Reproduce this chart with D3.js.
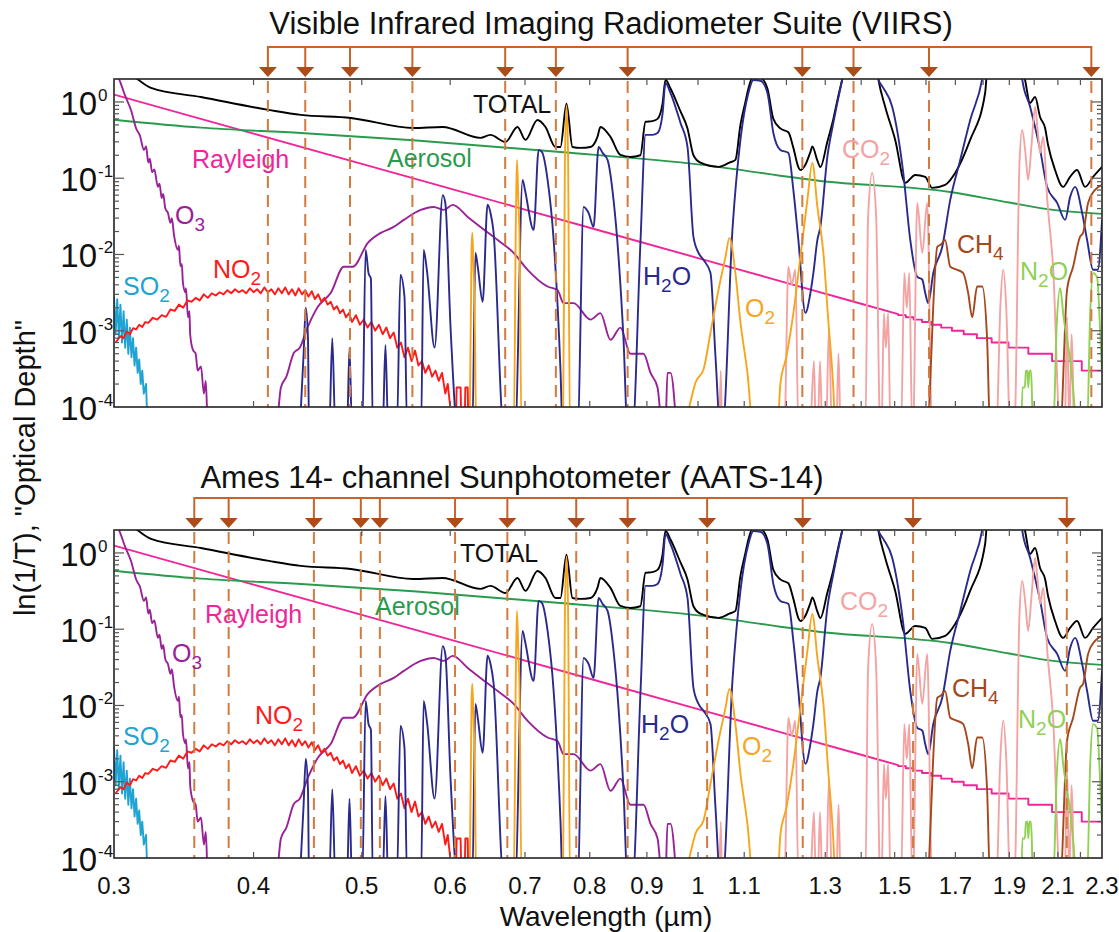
<!DOCTYPE html>
<html><head><meta charset="utf-8">
<script src="https://cdn.jsdelivr.net/npm/d3@7"></script>
<style>
body{margin:0;background:#fff}
svg{display:block}
text{font-family:"Liberation Sans",Arial,Helvetica,sans-serif;fill:#111}
</style></head>
<body><svg id="chart" width="1119" height="932"></svg>
<script>
// ---------------- DATA (wavelength in µm, optical depth) ----------------
const xTickValues = [0.3,0.4,0.5,0.6,0.7,0.8,0.9,1,1.1,1.3,1.5,1.7,1.9,2.1,2.3];
const xMinorTicks = [0.4,0.5,0.6,0.7,0.8,0.9,1.0,1.1,1.2,1.3,1.4,1.5,1.6,1.7,1.8,1.9,2.0,2.1,2.2];
const yDecades = [1e-4,1e-3,1e-2,1e-1,1];
const yExponents = ["-4","-3","-2","-1","0"];

const VIIRS_BANDS = [0.412,0.445,0.488,0.555,0.672,0.746,0.865,1.24,1.378,1.61,2.25];
const AATS_BANDS = [0.354,0.380,0.453,0.499,0.519,0.606,0.675,0.778,0.865,1.019,1.241,1.558,2.139];

const TOTAL = [[0.300,3.0],[0.3146,2.0],[0.3238,1.53],[0.3589,1.16],[0.4128,0.786],[0.441,0.676],[0.4888,0.617],[0.5562,0.456],[0.5905,0.47],[0.6386,0.338],[0.6519,0.37],[0.6724,0.299],[0.6892,0.47],[0.7007,0.318],[0.7182,0.581],[0.7302,0.47],[0.7454,0.257],[0.7531,0.257],[0.7625,0.95],[0.772,0.257],[0.7848,0.25],[0.8012,0.257],[0.8128,0.348],[0.8178,0.47],[0.8349,0.348],[0.8522,0.202],[0.87,0.19],[0.888,0.2],[0.8975,0.55],[0.91,0.56],[0.92,0.6],[0.9295,0.95],[0.9352,1.95],[0.9449,1.5],[0.9646,0.75],[0.9786,0.45],[0.9907,0.2],[1.005,0.16],[1.043,0.141],[1.067,0.16],[1.0802,0.174],[1.0914,0.5],[1.1027,1.0],[1.1095,1.5],[1.121,2.2],[1.1372,2.1],[1.1539,1.5],[1.1681,0.6],[1.1851,0.45],[1.2048,0.4],[1.2173,0.25],[1.2299,0.14],[1.235,0.128],[1.2478,0.15],[1.2607,0.22],[1.2659,0.26],[1.2791,0.17],[1.2869,0.14],[1.3056,0.3],[1.3219,0.6],[1.3355,1.2],[1.3466,2.0],[1.36,4],[1.44,4],[1.4502,2.0],[1.4711,0.86],[1.5017,0.318],[1.533,0.0868],[1.5649,0.11],[1.5975,0.104],[1.6207,0.0746],[1.6645,0.0817],[1.6992,0.117],[1.7525,0.318],[1.8075,1.31],[1.82,4],[1.94,4],[1.9627,1.94],[1.983,0.97],[2.0036,1.16],[2.0243,0.636],[2.0453,0.456],[2.058,0.273],[2.0879,0.128],[2.1225,0.0769],[2.1534,0.104],[2.1848,0.128],[2.2212,0.0769],[2.258,0.104],[2.3003,0.141]];

const AEROSOL = [[0.3,0.585],[0.359,0.46],[0.441,0.392],[0.556,0.315],[0.753,0.221],[1.005,0.151],[1.287,0.092],[1.682,0.066],[1.9,0.048],[2.08,0.0384],[2.3,0.0341]];

const RAYLEIGH = [[0.3,1.25],[0.4,0.384],[0.5,0.154],[0.6,0.0729],[0.7,0.0388],[0.8,0.0224],[1.0,0.00898],[1.2,0.00425],[1.4,0.00226],[1.511,0.00165],[1.511,0.0016],[1.535,0.0016],[1.535,0.0015],[1.56,0.0015],[1.56,0.0014],[1.587,0.0014],[1.587,0.0013],[1.617,0.0013],[1.617,0.0012],[1.651,0.0012],[1.651,0.0011],[1.688,0.0011],[1.688,0.001],[1.7295,0.001],[1.7295,0.0009],[1.777,0.0009],[1.777,0.0008],[1.832,0.0008],[1.832,0.0007],[1.897,0.0007],[1.897,0.0006],[1.976,0.0006],[1.976,0.0005],[2.075,0.0005],[2.075,0.0004],[2.206,0.0004],[2.206,0.0003],[2.3,0.0003]];

const O3 = [[0.3,2.5],[0.3031,2.0],[0.307,1.2],[0.3107,0.786],[0.314,0.45],[0.3165,0.36],[0.3191,0.235],[0.3205,0.26],[0.322,0.16],[0.323,0.18],[0.3245,0.12],[0.326,0.13],[0.3284,0.077],[0.3295,0.085],[0.331,0.055],[0.332,0.062],[0.3335,0.04],[0.3353,0.035],[0.337,0.026],[0.338,0.03],[0.3395,0.018],[0.3423,0.0115],[0.343,0.013],[0.344,0.007],[0.345,0.0075],[0.3458,0.0043],[0.3475,0.0032],[0.348,0.0036],[0.3494,0.0015],[0.3505,0.0018],[0.351,0.0009],[0.353,0.00056],[0.355,0.0005],[0.3565,0.0003],[0.3589,0.00034],[0.3611,0.00015],[0.3625,0.00022],[0.3641,5e-5],[0.4188,5e-5],[0.4232,0.00018],[0.428,0.00025],[0.4346,0.00051],[0.44,0.0006],[0.4474,0.00113],[0.4567,0.00206],[0.4691,0.00314],[0.4818,0.0069],[0.4908,0.0069],[0.5063,0.0142],[0.52,0.0192],[0.534,0.023],[0.5452,0.0284],[0.5646,0.0384],[0.5799,0.042],[0.592,0.0384],[0.6031,0.0447],[0.622,0.0311],[0.6386,0.023],[0.6617,0.0155],[0.6838,0.0105],[0.7038,0.0063],[0.7334,0.0038],[0.7487,0.0034],[0.758,0.0023],[0.7738,0.0023],[0.8012,0.0014],[0.8178,0.0017],[0.8349,0.00076],[0.8522,0.0011],[0.87,0.0005],[0.8938,0.0005],[0.9068,0.00028],[0.92,0.00018],[0.9295,5e-5],[0.935,5e-5],[0.939,0.00028],[0.945,0.00028],[0.9567,5e-5]];

const NO2 = [[0.301,0.0007],[0.304,0.00085],[0.306,0.0008],[0.308,0.00098],[0.310,0.0009],[0.312,0.00108],[0.314,0.00104],[0.316,0.0012],[0.318,0.00112],[0.32,0.0013],[0.322,0.00127],[0.325,0.00148],[0.328,0.0014],[0.331,0.0016],[0.334,0.00152],[0.337,0.0019],[0.340,0.00182],[0.343,0.0022],[0.346,0.0020],[0.349,0.0025],[0.352,0.0024],[0.355,0.0027],[0.358,0.0025],[0.361,0.0030],[0.364,0.0027],[0.367,0.0031],[0.370,0.0029],[0.373,0.0032],[0.376,0.0030],[0.379,0.0034],[0.382,0.0031],[0.385,0.0035],[0.388,0.0032],[0.391,0.0034],[0.394,0.0031],[0.397,0.0036],[0.400,0.0032],[0.403,0.0035],[0.406,0.0031],[0.409,0.0037],[0.412,0.0032],[0.415,0.0035],[0.418,0.0030],[0.421,0.0036],[0.424,0.0031],[0.427,0.0037],[0.430,0.0030],[0.433,0.0035],[0.436,0.0029],[0.439,0.0036],[0.442,0.0030],[0.445,0.0034],[0.448,0.0028],[0.451,0.0033],[0.454,0.0026],[0.457,0.0030],[0.460,0.0024],[0.463,0.0027],[0.466,0.0022],[0.469,0.0024],[0.472,0.0019],[0.475,0.0021],[0.478,0.0017],[0.481,0.0019],[0.484,0.0015],[0.487,0.0017],[0.490,0.0013],[0.494,0.0016],[0.498,0.0012],[0.502,0.0014],[0.506,0.0011],[0.51,0.0013],[0.514,0.001],[0.518,0.0012],[0.522,0.0009],[0.526,0.0011],[0.530,0.0008],[0.534,0.00095],[0.538,0.0006],[0.542,0.0007],[0.546,0.00045],[0.550,0.0006],[0.554,0.0004],[0.558,0.00055],[0.562,0.00035],[0.566,0.0004],[0.570,0.00028],[0.574,0.00035],[0.578,0.00025],[0.582,0.0003],[0.586,0.00022],[0.590,0.00028],[0.594,0.00015],[0.597,0.0002],[0.600,0.0001],[0.603,5e-5],[0.607,5e-5],[0.608,0.00018],[0.613,0.00018],[0.614,5e-5],[0.618,5e-5],[0.619,0.00018],[0.622,0.00018],[0.623,5e-5]];

const SO2 = [[0.3,0.0028],[0.301,0.0009],[0.302,0.0026],[0.303,0.0008],[0.304,0.0022],[0.305,0.0007],[0.306,0.0018],[0.307,0.0006],[0.308,0.0014],[0.309,0.0005],[0.310,0.0011],[0.311,0.00045],[0.312,0.0008],[0.313,0.00035],[0.314,0.0006],[0.315,0.00028],[0.316,0.00042],[0.317,0.0002],[0.318,0.0003],[0.319,0.00015],[0.3205,0.0002],[0.3215,5e-5]];

const H2O = [[0.440,5e-5],[0.4435,0.0005],[0.4455,0.002],[0.4475,0.0008],[0.4485,5e-5],[0.4675,5e-5],[0.4705,0.0008],[0.4735,5e-5],[0.485,5e-5],[0.4875,0.0006],[0.490,5e-5],[0.5005,5e-5],[0.504,0.0115],[0.507,0.0057],[0.5095,0.0048],[0.5115,5e-5],[0.522,5e-5],[0.525,0.00065],[0.528,5e-5],[0.5375,5e-5],[0.5415,0.0054],[0.546,0.0028],[0.549,5e-5],[0.565,5e-5],[0.568,0.0115],[0.572,0.006],[0.581,0.0006],[0.5908,0.06],[0.594,0.047],[0.6006,0.001],[0.6094,5e-5],[0.628,5e-5],[0.632,0.0105],[0.635,0.007],[0.6415,0.0024],[0.648,0.045],[0.652,0.035],[0.656,0.02],[0.670,5e-5],[0.686,5e-5],[0.6966,0.095],[0.700,0.07],[0.7126,0.021],[0.72,0.235],[0.725,0.22],[0.7334,0.095],[0.7426,0.0155],[0.7533,0.00028],[0.7564,5e-5],[0.7802,5e-5],[0.7899,0.042],[0.7981,0.035],[0.8063,0.023],[0.8147,0.257],[0.8214,0.215],[0.8299,0.174],[0.8402,0.052],[0.8489,0.0093],[0.8577,0.00076],[0.8648,5e-5],[0.8737,5e-5],[0.8883,0.0155],[0.8975,0.37],[0.910,0.37],[0.92,0.392],[0.9295,0.7],[0.9352,1.77],[0.9449,1.31],[0.9646,0.531],[0.9786,0.257],[0.9907,0.017],[1.0011,0.0105],[1.0114,0.0085],[1.0261,0.0057],[1.0367,0.00046],[1.0474,5e-5],[1.0517,5e-5],[1.0736,0.021],[1.0914,0.318],[1.1095,1.31],[1.121,1.94],[1.1372,1.9],[1.1539,1.31],[1.1681,0.392],[1.1851,0.235],[1.2048,0.215],[1.2173,0.07],[1.2299,0.0155],[1.2478,0.00172],[1.2607,0.0031],[1.2685,0.0057],[1.2791,0.0155],[1.2869,0.023],[1.3056,0.19],[1.3219,0.531],[1.3466,2.0],[1.36,4],[1.44,4],[1.4502,2.0],[1.4652,1.53],[1.4926,0.86],[1.5269,0.117],[1.549,0.0155],[1.5715,0.0051],[1.5878,0.0047],[1.5977,0.0031],[1.6076,0.0023],[1.6242,0.0057],[1.6546,0.0126],[1.6821,0.052],[1.7171,0.174],[1.7528,0.581],[1.7967,2.0],[1.81,4],[1.94,4],[1.951,2.0],[1.9834,0.86],[2.0247,0.235],[2.0541,0.0769],[2.0969,0.0475],[2.1317,0.0284],[2.1538,0.0569],[2.1761,0.0769],[2.2077,0.0351],[2.2305,0.0155],[2.2581,0.0063],[2.28,0.0063],[2.3003,0.0284]];

const O2 = [[0.6245,5e-5],[0.627,0.012],[0.628,0.0192],[0.6295,0.007],[0.631,0.002],[0.633,5e-5],[0.684,5e-5],[0.687,0.03],[0.6885,0.174],[0.6905,0.05],[0.692,0.02],[0.695,5e-5],[0.757,5e-5],[0.760,0.15],[0.7625,0.9],[0.765,0.2],[0.768,5e-5],[0.97,5e-5],[0.985,0.00012],[0.9949,0.00021],[1.0114,0.00031],[1.0261,0.00094],[1.043,0.0034],[1.0583,0.0093],[1.067,0.0165],[1.0802,0.0057],[1.0914,0.0013],[1.1073,0.00028],[1.121,5e-5],[1.1779,5e-5],[1.1851,0.0002],[1.2,0.00046],[1.2173,0.0017],[1.235,0.0093],[1.253,0.052],[1.2659,0.159],[1.2791,0.042],[1.295,0.0105],[1.3084,0.0013],[1.3219,0.00017],[1.327,5e-5]];

const CO2 = [[1.045,5e-5],[1.048,0.0003],[1.051,5e-5],[1.195,5e-5],[1.2048,0.0069],[1.213,0.004],[1.2223,0.0063],[1.23,5e-5],[1.26,5e-5],[1.27,0.0004],[1.275,5e-5],[1.28,5e-5],[1.286,0.0004],[1.292,5e-5],[1.302,5e-5],[1.31,0.0011],[1.318,5e-5],[1.33,5e-5],[1.336,0.0005],[1.342,5e-5],[1.412,5e-5],[1.42,0.03],[1.432,0.117],[1.444,0.03],[1.456,5e-5],[1.46,5e-5],[1.467,0.0017],[1.473,0.0006],[1.48,0.0017],[1.487,5e-5],[1.52,5e-5],[1.53,0.0057],[1.538,0.002],[1.546,0.0057],[1.555,5e-5],[1.558,5e-5],[1.5715,0.0475],[1.5878,0.0105],[1.604,0.0475],[1.62,5e-5],[1.85,5e-5],[1.865,0.002],[1.876,0.0063],[1.888,0.002],[1.903,5e-5],[1.92,5e-5],[1.94,0.15],[1.951,0.43],[1.965,0.2],[1.975,0.095],[1.99,0.3],[2.0036,0.86],[2.015,0.4],[2.0247,0.215],[2.037,0.348],[2.055,0.05],[2.08,0.0063],[2.11,5e-5],[2.13,5e-5],[2.14,0.0015],[2.15,5e-5],[2.16,0.0009],[2.17,5e-5]];

const CH4 = [[1.6076,5e-5],[1.6242,0.0021],[1.6377,0.0126],[1.65,0.0135],[1.6645,0.0155],[1.6821,0.0069],[1.7064,0.0063],[1.7277,0.0057],[1.7456,0.0031],[1.76,0.0015],[1.778,0.0038],[1.7967,0.0038],[1.815,0.00076],[1.8262,5e-5],[2.11,5e-5],[2.14,0.00344],[2.167,0.0069],[2.198,0.017],[2.212,0.0192],[2.235,0.0475],[2.267,0.0703],[2.3003,0.0817]];

const N2O = [[1.948,5e-5],[1.952,0.00018],[1.962,0.00018],[1.966,0.0003],[1.972,0.0003],[1.976,0.00018],[1.98,0.0003],[1.986,0.0003],[1.99,0.00018],[1.994,5e-5],[2.08,5e-5],[2.095,0.0012],[2.11,0.0036],[2.125,0.0015],[2.14,0.00076],[2.1538,0.00042],[2.165,0.0002],[2.185,5e-5],[2.23,5e-5],[2.245,0.0018],[2.258,0.0057],[2.277,0.005],[2.29,0.0012],[2.3003,0.00028]];

// ---------------- STYLE / LAYOUT ----------------
const series = [
  {data: RAYLEIGH, color: "#f0259a", step: true},
  {data: AEROSOL, color: "#2a9a4c"},
  {data: TOTAL, color: "#000000"},
  {data: SO2, color: "#1ea3d3", step: true},
  {data: O3, color: "#992296"},
  {data: NO2, color: "#ff1a1a", step: true},
  {data: H2O, color: "#2a2a8c"},
  {data: CO2, color: "#f4a3a3"},
  {data: CH4, color: "#a4481c"},
  {data: N2O, color: "#8fd152"},
  {data: O2, color: "#f8a51e"}
];

const panels = [
  {top: 79, bottom: 407, title: "Visible Infrared Imaging Radiometer Suite (VIIRS)", titleX: 611, titleY: 34,
   bands: VIIRS_BANDS, xLabels: false,
   labels: [
    {t:"TOTAL", x:473, y:113, c:"#111"},
    {t:"Rayleigh", x:192, y:168, c:"#f0259a"},
    {t:"Aerosol", x:387, y:167, c:"#2a9a4c"},
    {t:"O", s:"3", x:175, y:224, c:"#992296"},
    {t:"NO", s:"2", x:213, y:278, c:"#ff1a1a"},
    {t:"SO", s:"2", x:123, y:295, c:"#1ea3d3"},
    {t:"H", s:"2", t2:"O", x:643, y:285, c:"#2a2a8c"},
    {t:"O", s:"2", x:745, y:317, c:"#f8a51e"},
    {t:"CO", s:"2", x:842, y:158, c:"#f4a3a3"},
    {t:"CH", s:"4", x:957, y:253, c:"#a4481c"},
    {t:"N", s:"2", t2:"O", x:1020, y:280, c:"#8fd152"}
   ]},
  {top: 530, bottom: 858, title: "Ames 14- channel Sunphotometer (AATS-14)", titleX: 512, titleY: 488,
   bands: AATS_BANDS, xLabels: true,
   labels: [
    {t:"TOTAL", x:460, y:562, c:"#111"},
    {t:"Rayleigh", x:205, y:623, c:"#f0259a"},
    {t:"Aerosol", x:375, y:615, c:"#2a9a4c"},
    {t:"O", s:"3", x:172, y:662, c:"#992296"},
    {t:"NO", s:"2", x:255, y:724, c:"#ff1a1a"},
    {t:"SO", s:"2", x:123, y:745, c:"#1ea3d3"},
    {t:"H", s:"2", t2:"O", x:641, y:733, c:"#2a2a8c"},
    {t:"O", s:"2", x:742, y:755, c:"#f8a51e"},
    {t:"CO", s:"2", x:840, y:610, c:"#f4a3a3"},
    {t:"CH", s:"4", x:952, y:697, c:"#a4481c"},
    {t:"N", s:"2", t2:"O", x:1018, y:728, c:"#8fd152"}
   ]}
];

const svg = d3.select("#chart");
const x = d3.scaleLog().domain([0.3, 2.3]).range([114, 1102]);
const bandColor = "#d27a40", bracketColor = "#c8632c", headColor = "#ad4c18";

panels.forEach((p, i) => {
  const y = d3.scaleLog().domain([1e-4, 2]).range([p.bottom, p.top]);
  const x0 = x.range()[0], x1 = x.range()[1];
  const g = svg.append("g");

  g.append("text").attr("x", p.titleX).attr("y", p.titleY).attr("text-anchor", "middle")
    .style("font-size", "31px").text(p.title);

  const cid = "clip" + i;
  svg.append("defs").append("clipPath").attr("id", cid)
    .append("rect").attr("x", x0).attr("y", p.top).attr("width", x1 - x0).attr("height", p.bottom - p.top);

  const smooth = d3.line().x(d => x(d[0])).y(d => y(Math.max(d[1], 3e-5))).curve(d3.curveMonotoneX);
  const straight = d3.line().x(d => x(d[0])).y(d => y(Math.max(d[1], 3e-5)));
  const cg = g.append("g").attr("clip-path", `url(#${cid})`);
  series.forEach(s => {
    cg.append("path").attr("d", (s.step ? straight : smooth)(s.data)).attr("fill", "none")
      .attr("stroke", s.color).attr("stroke-width", 1.9).attr("stroke-linejoin", "round");
  });

  cg.selectAll(".band").data(p.bands).join("line")
    .attr("x1", d => x(d)).attr("x2", d => x(d))
    .attr("y1", p.top + 2).attr("y2", p.bottom)
    .attr("stroke", bandColor).attr("stroke-width", 2).attr("stroke-dasharray", "12,7");

  const by = p.top - 32;
  g.append("line").attr("x1", x(p.bands[0])).attr("x2", x(p.bands[p.bands.length - 1]))
    .attr("y1", by).attr("y2", by).attr("stroke", bracketColor).attr("stroke-width", 2);
  g.selectAll(".stem").data(p.bands).join("line")
    .attr("x1", d => x(d)).attr("x2", d => x(d)).attr("y1", by - 1).attr("y2", p.top - 11)
    .attr("stroke", bracketColor).attr("stroke-width", 2);
  g.selectAll(".head").data(p.bands).join("path")
    .attr("d", d => `M${x(d) - 9},${p.top - 12} L${x(d) + 9},${p.top - 12} L${x(d)},${p.top - 2} Z`)
    .attr("fill", headColor);

  g.append("rect").attr("x", x0).attr("y", p.top).attr("width", x1 - x0).attr("height", p.bottom - p.top)
    .attr("fill", "none").attr("stroke", "#222").attr("stroke-width", 1.6);

  const xt = g.append("g").attr("stroke", "#555").attr("stroke-width", 1.2);
  xMinorTicks.forEach(v => {
    xt.append("line").attr("x1", x(v)).attr("x2", x(v)).attr("y1", p.bottom).attr("y2", p.bottom - 6);
    xt.append("line").attr("x1", x(v)).attr("x2", x(v)).attr("y1", p.top).attr("y2", p.top + 6);
  });

  const yt = g.append("g").attr("stroke", "#555").attr("stroke-width", 1.2);
  yDecades.forEach(dec => {
    for (let m = 1; m <= 9; m++) {
      const v = dec * m;
      if (v > 2 || (m === 1 && dec === 1e-4)) continue;
      const len = m === 1 ? 10 : 5;
      yt.append("line").attr("x1", x0).attr("x2", x0 + len).attr("y1", y(v)).attr("y2", y(v));
      yt.append("line").attr("x1", x1).attr("x2", x1 - len).attr("y1", y(v)).attr("y2", y(v));
    }
  });

  yDecades.forEach((dec, k) => {
    const ty = y(dec);
    g.append("text").attr("x", 97).attr("y", ty + 13).attr("text-anchor", "end")
      .style("font-size", "33px").text("10");
    g.append("text").attr("x", 98).attr("y", ty - 1).style("font-size", "17px").text(yExponents[k]);
  });

  if (p.xLabels) {
    xTickValues.forEach(v => {
      g.append("text").attr("x", x(v)).attr("y", 894).attr("text-anchor", "middle")
        .style("font-size", "24px").text(String(v));
    });
  }

  p.labels.forEach(l => {
    const t = g.append("text").attr("x", l.x).attr("y", l.y).style("font-size", "25px");
    t.append("tspan").style("fill", l.c).text(l.t);
    if (l.s) t.append("tspan").attr("dy", 7).style("font-size", "19px").style("fill", l.c).text(l.s);
    if (l.t2) t.append("tspan").attr("dy", -7).style("fill", l.c).text(l.t2);
  });
});

svg.append("text").attr("x", 606).attr("y", 926).attr("text-anchor", "middle")
  .style("font-size", "28px").text("Wavelength (\u00b5m)");
svg.append("text").attr("transform", "translate(35,468) rotate(-90)").attr("text-anchor", "middle")
  .style("font-size", "29px").text("ln(1/T), \"Optical Depth\"");
</script></body></html>
